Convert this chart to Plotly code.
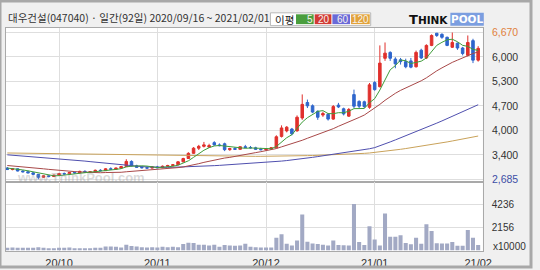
import plotly.graph_objects as go

W, H = 540, 270

title_text = "대우건설(047040) · 일간(92일) 2020/09/16 ~ 2021/02/01"
month_labels = ["20/10", "20/11", "20/12", "21/01", "21/02"]
month_idx = [10, 29, 50, 71, 91]
price_labels = ["2,685", "3,400", "4,000", "4,700", "5,300", "6,000", "6,670"]
vol_ticks = [2156, 4236]
vol_unit = "x10000"
ma_names = ["5", "20", "60", "120"]

opens = [2990, 2950, 2970, 2910, 2890, 2860, 2820, 2740, 2780, 2760,
         2800, 2840, 2830, 2870, 2860, 2900, 2880, 2890, 2930, 2920,
         2970, 2960, 2990, 3030, 3170, 3050, 3010, 3000, 2990, 3020,
         3000, 3040, 3060, 3080, 3160, 3250, 3390, 3530, 3580, 3560,
         3680, 3620, 3650, 3490, 3520, 3500, 3570, 3550, 3540, 3500,
         3490, 3510, 3540, 3850, 4000, 4050, 4000, 4350, 4770, 4680,
         4530, 4430, 4450, 4320, 4700, 4600, 4400, 4985, 4800, 4790,
         4640, 5310, 5200, 5970, 6130, 5950, 5930, 5880, 5900, 5740,
         6190, 5980, 6320, 6650, 6620, 6540, 6270, 6380, 6250, 6050,
         6450, 5920]
highs = [3020, 2990, 2980, 2930, 2920, 2880, 2830, 2800, 2800, 2810,
         2860, 2870, 2880, 2900, 2920, 2930, 2910, 2950, 2960, 2990,
         3010, 3000, 3050, 3230, 3200, 3080, 3040, 3030, 3040, 3050,
         3060, 3080, 3100, 3180, 3270, 3420, 3560, 3620, 3700, 3650,
         3720, 3660, 3680, 3540, 3560, 3580, 3620, 3590, 3570, 3540,
         3530, 3560, 3880, 4150, 4130, 4080, 4420, 4990, 4850, 4720,
         4560, 4520, 4480, 4700, 4760, 4630, 4620, 5120, 4830, 4820,
         5300, 5350, 6320, 6400, 6160, 6000, 5980, 5960, 5980, 6180,
         6230, 6350, 6620, 6660, 6650, 6560, 6670, 6400, 6280, 6590,
         6500, 6300]
lows = [2940, 2930, 2900, 2870, 2850, 2800, 2685, 2720, 2740, 2750,
        2790, 2810, 2820, 2840, 2850, 2870, 2860, 2880, 2900, 2910,
        2940, 2950, 2970, 3020, 3030, 3000, 2980, 2970, 2980, 2990,
        2990, 3020, 3040, 3070, 3150, 3240, 3380, 3480, 3550, 3540,
        3600, 3580, 3450, 3460, 3480, 3490, 3530, 3520, 3480, 3470,
        3460, 3480, 3530, 3820, 3960, 3880, 3980, 4300, 4620, 4480,
        4300, 4380, 4280, 4300, 4620, 4420, 4380, 4620, 4620, 4620,
        4600, 5090, 5180, 5900, 5900, 5700, 5800, 5700, 5700, 5720,
        5950, 5950, 6300, 6550, 6500, 6300, 6250, 6200, 6050, 6020,
        5840, 5880]
closes = [2950, 2970, 2910, 2890, 2860, 2820, 2740, 2780, 2760, 2800,
          2840, 2830, 2870, 2860, 2900, 2880, 2890, 2930, 2920, 2970,
          2960, 2990, 3030, 3170, 3050, 3010, 3000, 2990, 3020, 3000,
          3040, 3060, 3080, 3160, 3250, 3390, 3530, 3580, 3620, 3600,
          3620, 3600, 3490, 3520, 3500, 3570, 3550, 3540, 3500, 3490,
          3510, 3540, 3840, 4080, 4100, 3920, 4370, 4720, 4680, 4510,
          4370, 4470, 4320, 4660, 4650, 4460, 4580, 4670, 4670, 4660,
          5250, 5120, 5840, 6110, 5970, 5820, 5880, 5740, 5730, 6130,
          5980, 6320, 6590, 6590, 6540, 6320, 6400, 6250, 6100, 6400,
          5920, 6240]
volume = [226, 258, 226, 226, 226, 226, 290, 226, 161, 194,
          226, 226, 258, 194, 194, 161, 129, 226, 226, 355,
          355, 323, 258, 517, 388, 355, 290, 258, 290, 258,
          323, 290, 323, 290, 581, 710, 678, 517, 517, 452,
          517, 323, 485, 452, 420, 452, 614, 323, 290, 258,
          258, 258, 1160, 1490, 600, 450, 900, 3330, 800, 620,
          580, 520, 450, 900, 500, 460, 450, 4330, 780, 480,
          2230, 1000, 450, 3420, 1260, 1260, 1390, 680, 550, 1160,
          600, 2420, 1800, 650, 620, 620, 780, 420, 420, 1900,
          1160, 480]
ma5 = [2990, 2980, 2960, 2940, 2916, 2890, 2844, 2818, 2792, 2780,
       2784, 2802, 2820, 2840, 2860, 2868, 2880, 2892, 2904, 2918,
       2934, 2954, 2974, 3024, 3040, 3050, 3052, 3044, 3014, 3004,
       3012, 3022, 3040, 3068, 3118, 3188, 3282, 3382, 3474, 3544,
       3590, 3604, 3586, 3566, 3546, 3536, 3526, 3536, 3532, 3530,
       3518, 3516, 3576, 3692, 3814, 3896, 4062, 4238, 4358, 4440,
       4530, 4550, 4470, 4466, 4494, 4492, 4534, 4604, 4606, 4608,
       4766, 4874, 5108, 5396, 5658, 5772, 5924, 5904, 5828, 5860,
       5892, 5980, 6150, 6322, 6404, 6472, 6488, 6420, 6322, 6294,
       6214, 6182]
ma20 = [3060, 3050, 3040, 3030, 3015, 3000, 2985, 2970, 2955, 2940,
        2930, 2915, 2905, 2895, 2885, 2875, 2870, 2866, 2864, 2869,
        2869, 2870, 2876, 2890, 2900, 2909, 2922, 2933, 2946, 2956,
        2966, 2977, 2988, 3003, 3020, 3046, 3078, 3110, 3145, 3177,
        3210, 3240, 3263, 3281, 3303, 3331, 3359, 3386, 3410, 3435,
        3458, 3482, 3520, 3566, 3609, 3640, 3685, 3745, 3800, 3850,
        3895, 3945, 3995, 4060, 4125, 4180, 4240, 4300, 4365, 4430,
        4520, 4610, 4720, 4830, 4930, 5020, 5100, 5160, 5220, 5290,
        5360, 5440, 5540, 5630, 5710, 5790, 5860, 5920, 5980, 6060,
        6100, 6144]
ma60 = [3350, 3340, 3330, 3320, 3310, 3300, 3290, 3280, 3270, 3260,
        3250, 3240, 3225, 3210, 3195, 3180, 3165, 3150, 3135, 3120,
        3105, 3090, 3075, 3060, 3050, 3040, 3030, 3022, 3016, 3012,
        3010, 3010, 3012, 3015, 3018, 3022, 3027, 3033, 3040, 3048,
        3056, 3064, 3072, 3080, 3088, 3097, 3106, 3115, 3125, 3135,
        3145, 3155, 3167, 3180, 3194, 3208, 3224, 3242, 3262, 3282,
        3302, 3322, 3342, 3362, 3382, 3402, 3424, 3446, 3468, 3490,
        3515, 3545, 3590, 3645, 3700, 3755, 3810, 3865, 3920, 3975,
        4030, 4090, 4150, 4210, 4270, 4330, 4390, 4450, 4510, 4570,
        4640, 4710]
ma120 = [3400, 3398, 3395, 3393, 3390, 3388, 3385, 3383, 3380, 3378,
         3375, 3373, 3370, 3368, 3365, 3362, 3360, 3358, 3355, 3353,
         3350, 3348, 3345, 3343, 3340, 3338, 3335, 3333, 3330, 3328,
         3326, 3324, 3322, 3320, 3318, 3316, 3315, 3314, 3312, 3311,
         3310, 3310, 3309, 3309, 3308, 3308, 3308, 3309, 3309, 3310,
         3310, 3311, 3313, 3314, 3316, 3318, 3321, 3324, 3328, 3331,
         3335, 3340, 3345, 3350, 3355, 3360, 3367, 3374, 3382, 3390,
         3400, 3414, 3430, 3446, 3462, 3480, 3500, 3520, 3540, 3560,
         3580, 3603, 3626, 3650, 3675, 3700, 3726, 3752, 3778, 3806,
         3833, 3860]

# ---- styles ----
RED = "#e0302c"
BLUE = "#2f66cc"
VOLC = "#a2a9c4"
MA_COLORS = ["#3f9c3a", "#a84848", "#4f4fae", "#c9a25a"]
BOX_COLORS = ["#4a9e3e", "#d23a34", "#6a6ad8", "#e2a23a"]
GRID = "#dedede"
FRAME = "#a9a9a9"
FONT = "Liberation Sans"

idx = list(range(len(closes)))
lo, hi = min(lows), max(highs)
price_ticks = [lo + k * (hi - lo) / 6 for k in range(7)]
price_text = list(price_labels)
price_text[-1] = f"<span style='color:#e0803c'>{price_labels[-1]}</span>"
price_text[0] = f"<span style='color:#3d4ea6'>{price_labels[0]}</span>"

fig = go.Figure()
fig.add_trace(go.Candlestick(
    x=idx, open=opens, high=highs, low=lows, close=closes,
    increasing=dict(line=dict(color=RED, width=1), fillcolor=RED),
    decreasing=dict(line=dict(color=BLUE, width=1), fillcolor=BLUE),
    whiskerwidth=0, xaxis="x", yaxis="y", showlegend=False, hoverinfo="skip"))
for ma, col in zip([ma120, ma60, ma20, ma5], MA_COLORS[::-1]):
    fig.add_trace(go.Scatter(x=idx, y=ma, mode="lines", line=dict(color=col, width=1),
                             xaxis="x", yaxis="y", showlegend=False, hoverinfo="skip"))
fig.add_trace(go.Bar(x=idx, y=volume, marker=dict(color=VOLC, line_width=0),
                     xaxis="x2", yaxis="y2", showlegend=False, hoverinfo="skip"))

def px(x):
    return x / W

def py(y):
    return 1 - y / H

xdom = [px(6), px(491)]
xr = [-0.27, 91.9]
p_top, p_bot, v_bot = 27, 184, 254
unit = (hi - lo) / (181 - 32)
p_range = [lo - (p_bot - 181) * unit, hi + (32 - p_top) * unit]
v_unit = 92
v_range = [-(v_bot - 253) * v_unit, (253 - p_bot) * v_unit]

axis_common = dict(showline=True, linecolor=FRAME, linewidth=1, mirror=True,
                   zeroline=False, ticks="", fixedrange=True)

fig.update_layout(
    width=W, height=H, margin=dict(l=0, r=0, t=0, b=0),
    paper_bgcolor="#f0f0f0", plot_bgcolor="white",
    bargap=0.22, hovermode=False, showlegend=False,
    xaxis=dict(domain=xdom, range=xr, anchor="y", tickvals=month_idx[:-1],
               showticklabels=False, showgrid=True, gridcolor=GRID,
               rangeslider=dict(visible=False), **axis_common),
    yaxis=dict(domain=[py(p_bot), py(p_top)], range=p_range, side="right",
               tickvals=price_ticks, ticktext=price_text, showgrid=True,
               gridcolor=GRID, ticklabelstandoff=6,
               tickfont=dict(family=FONT, size=10.5, color="#333"), **axis_common),
    xaxis2=dict(domain=xdom, range=xr, anchor="y2", tickvals=month_idx,
                ticktext=month_labels, showgrid=False,
                ticklabelstandoff=2,
                tickfont=dict(family=FONT, size=11, color="#333"), **axis_common),
    xaxis3=dict(domain=xdom, range=xr, anchor="y2", overlaying="x2", tickvals=month_idx[:-1],
                showticklabels=False, showgrid=True, gridcolor=GRID, showline=False,
                zeroline=False, ticks="", fixedrange=True),
    yaxis2=dict(domain=[py(v_bot), py(p_bot)], range=v_range, side="right",
                tickvals=vol_ticks, ticktext=[str(v) for v in vol_ticks],
                showgrid=True, gridcolor=GRID, ticklabelstandoff=6,
                tickfont=dict(family=FONT, size=10, color="#333"), **axis_common),
)
# invisible helper trace so the grid-only axis is drawn
fig.add_trace(go.Scatter(x=[idx[0]], y=[volume[0]], mode="markers", marker=dict(opacity=0),
                         xaxis="x3", yaxis="y2", showlegend=False, hoverinfo="skip"))

shapes = []
annotations = []
shapes.append(dict(type="rect", xref="paper", yref="paper", x0=0, y0=0, x1=1, y1=1,
                   line=dict(color="#a8a8a8", width=3), fillcolor="rgba(0,0,0,0)", layer="above"))
annotations.append(dict(x=px(6), y=py(17), xref="paper", yref="paper", xanchor="left",
                        yanchor="middle", showarrow=False, text=title_text,
                        font=dict(family="Noto Sans CJK KR", size=10.5, color="#333")))
shapes.append(dict(type="rect", xref="paper", yref="paper", x0=px(275), x1=px(377),
                   y0=py(25), y1=py(12), fillcolor="white", line=dict(color="#b8b8b8", width=1)))
annotations.append(dict(x=px(278), y=py(18.5), xref="paper", yref="paper", xanchor="left",
                        yanchor="middle", showarrow=False, text="이평",
                        font=dict(family="Noto Sans CJK KR", size=10.5, color="#222")))
box_x = [(301, 319), (320, 337), (338, 356), (357, 376)]
for (x0, x1), col, name in zip(box_x, BOX_COLORS, ma_names):
    shapes.append(dict(type="rect", xref="paper", yref="paper", x0=px(x0), x1=px(x1),
                       y0=py(23.5), y1=py(13.5), fillcolor=col, line=dict(width=0)))
    annotations.append(dict(x=px(x1), y=py(18.5), xref="paper", yref="paper",
                            xanchor="right", yanchor="middle", showarrow=False, text=name,
                            borderpad=0, xshift=0,
                            font=dict(family=FONT, size=10, color="#f6f2ee")))
shapes.append(dict(type="rect", xref="paper", yref="paper", x0=px(458), x1=px(492),
                   y0=py(25), y1=py(12), fillcolor="#7b9ee0", line=dict(width=0)))
annotations.append(dict(x=px(458), y=py(18.5), xref="paper", yref="paper", xanchor="right",
                        yanchor="middle", showarrow=False,
                        text="<b><span style='font-size:13px'>T</span>HINK</b>",
                        font=dict(family="DejaVu Sans", size=10.5, color="#111")))
annotations.append(dict(x=px(475), y=py(18.5), xref="paper", yref="paper", xanchor="center",
                        yanchor="middle", showarrow=False, text="<b>POOL</b>",
                        font=dict(family="DejaVu Sans", size=10.5, color="white")))
annotations.append(dict(x=px(499), y=py(249), xref="paper", yref="paper", xanchor="left",
                        yanchor="middle", showarrow=False, text=vol_unit,
                        font=dict(family=FONT, size=10, color="#333")))
annotations.append(dict(x=px(82), y=py(179), xref="paper", yref="paper", xanchor="center",
                        yanchor="middle", showarrow=False, text="<b>www.ThinkPool.com</b>",
                        font=dict(family=FONT, size=13, color="rgba(150,150,150,0.35)")))

fig.update_layout(shapes=shapes, annotations=annotations)
fig.write_html("out.html", config={"displayModeBar": False})
